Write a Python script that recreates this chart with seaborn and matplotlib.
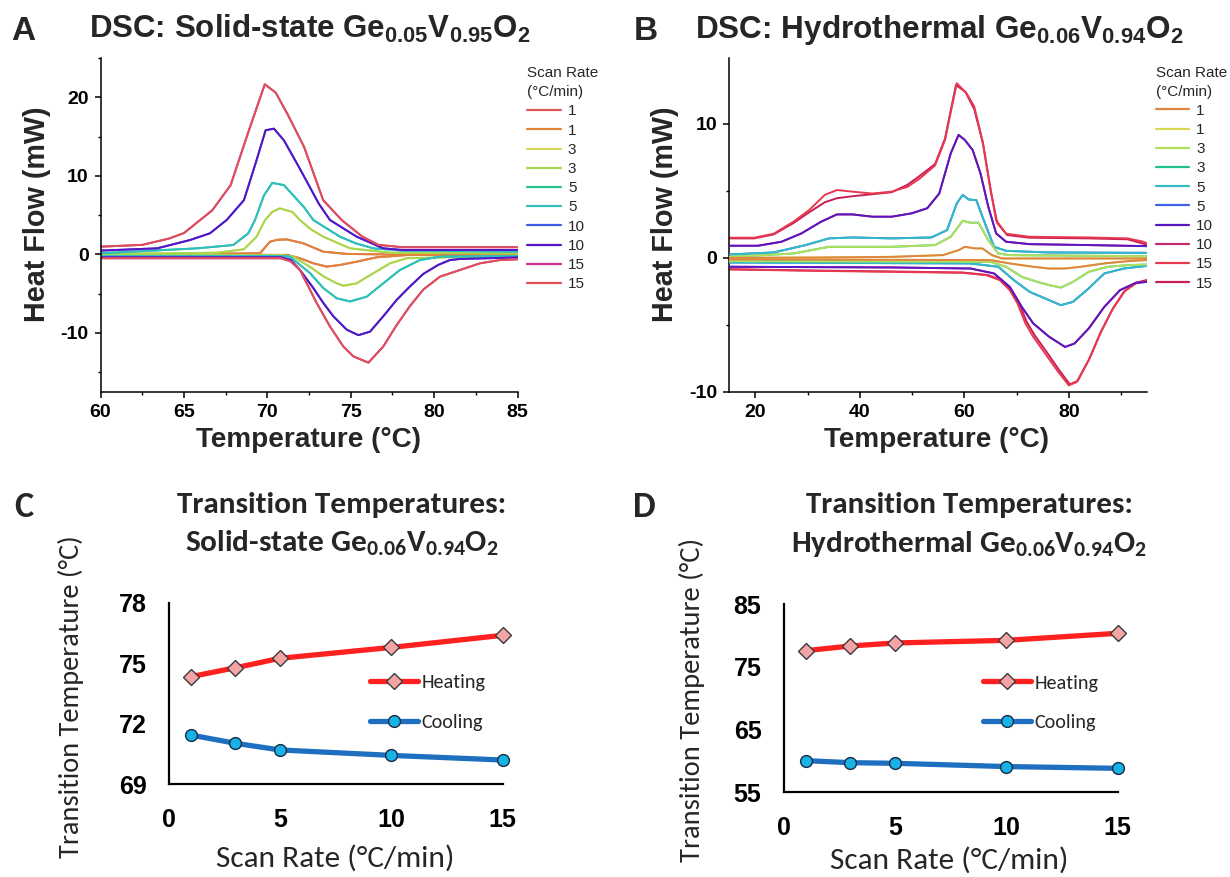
import matplotlib
matplotlib.use("Agg")
import matplotlib.pyplot as plt
import seaborn as sns
from matplotlib import font_manager as fm
from matplotlib.ticker import MultipleLocator

# ---------------------------------------------------------------- data
# Panel A: DSC loops, solid-state Ge0.05V0.95O2 (cooling = exothermic peak, heating = dip)
A_r1_cool_T = [60.0, 69.56, 70.16, 70.6, 71.16, 72.16, 73.36, 74.76, 76.4, 85.0]
A_r1_cool_HF = [-0.08, 0.13, 1.6, 1.85, 1.9, 1.4, 0.33, 0.05, 0.0, -0.1]
A_r1_heat_T = [60.0, 71.2, 71.96, 72.76, 73.56, 74.36, 75.36, 76.56, 78.36, 85.0]
A_r1_heat_HF = [-0.05, -0.08, -0.5, -1.15, -1.57, -1.36, -0.94, -0.38, -0.1, -0.1]

A_r3_cool_T = [60.0, 67.0, 68.6, 69.36, 69.86, 70.3, 70.75, 71.5, 71.96, 72.6, 73.36, 74.96, 77.36, 85.0]
A_r3_cool_HF = [0.04, 0.2, 0.64, 2.24, 4.36, 5.4, 5.85, 5.4, 4.36, 3.2, 2.24, 0.76, 0.2, 0.13]
A_r3_heat_T = [60.0, 70.8, 71.56, 72.56, 73.36, 74.16, 74.56, 75.36, 76.36, 77.36, 78.36, 85.0]
A_r3_heat_HF = [-0.13, -0.13, -0.3, -1.6, -2.8, -3.7, -4.0, -3.7, -2.4, -1.15, -0.5, -0.2]

A_r5_cool_T = [60.0, 65.8, 67.96, 68.86, 69.26, 69.8, 70.3, 71.0, 72.2, 72.76, 74.36, 75.3, 76.36, 78.1, 85.0]
A_r5_cool_HF = [0.13, 0.76, 1.18, 2.67, 4.36, 7.5, 9.1, 8.8, 6.0, 4.36, 2.24, 1.4, 0.76, 0.47, 0.34]
A_r5_heat_T = [60.0, 70.6, 71.36, 72.56, 73.36, 74.16, 74.96, 75.96, 76.95, 77.95, 79.15, 80.35, 85.0]
A_r5_heat_HF = [-0.21, -0.21, -0.3, -2.4, -4.3, -5.6, -6.0, -5.4, -3.7, -2.0, -0.73, -0.3, -0.21]

A_r10_cool_T = [60.0, 63.4, 65.37, 66.56, 67.56, 68.6, 69.3, 69.9, 70.4, 71.0, 71.9, 73.1, 73.76, 75.36, 76.95, 78.1, 85.0]
A_r10_cool_HF = [0.47, 0.76, 1.82, 2.67, 4.36, 6.9, 11.6, 15.8, 16.0, 14.5, 11.1, 6.4, 4.36, 2.24, 0.76, 0.55, 0.55]
A_r10_heat_T = [60.0, 70.8, 71.4, 71.96, 72.76, 73.36, 73.96, 74.76, 75.46, 76.16, 76.95, 77.76, 78.55, 79.35, 80.25, 80.95, 81.55, 85.0]
A_r10_heat_HF = [-0.38, -0.38, -0.7, -2.0, -4.3, -6.2, -7.9, -9.6, -10.3, -9.85, -7.9, -5.8, -4.1, -2.5, -1.35, -0.73, -0.6, -0.4]

A_r15_cool_T = [60.0, 62.5, 64.1, 65.0, 66.7, 67.8, 68.9, 69.85, 70.5, 71.2, 72.2, 73.35, 74.46, 75.7, 76.66, 78.1, 85.0]
A_r15_cool_HF = [0.97, 1.2, 2.0, 2.7, 5.6, 8.8, 15.8, 21.65, 20.6, 17.9, 13.7, 6.9, 4.36, 2.25, 1.2, 0.9, 0.9]
A_r15_heat_T = [60.0, 70.8, 71.4, 71.96, 72.96, 73.76, 74.56, 75.16, 76.06, 76.95, 77.76, 78.55, 79.35, 80.35, 81.55, 82.75, 83.95, 85.0]
A_r15_heat_HF = [-0.5, -0.5, -0.9, -2.0, -6.2, -9.2, -11.75, -13.0, -13.8, -11.75, -9.0, -6.6, -4.5, -2.85, -2.0, -1.15, -0.73, -0.64]

# Panel B: DSC loops, hydrothermal Ge0.06V0.94O2
B_r1_cool_T = [15.0, 31.0, 46.1, 55.9, 58.9, 60.1, 62.0, 63.45, 65.3, 67.2, 95.0]
B_r1_cool_HF = [0.0, 0.02, 0.07, 0.2, 0.57, 0.82, 0.7, 0.7, 0.2, -0.05, -0.05]
B_r1_heat_T = [15.0, 65.0, 68.7, 73.2, 76.25, 79.3, 82.3, 86.8, 91.3, 95.0]
B_r1_heat_HF = [-0.12, -0.17, -0.42, -0.67, -0.8, -0.8, -0.67, -0.42, -0.25, -0.17]

B_r3_cool_T = [15.0, 27.3, 34.1, 46.1, 54.4, 57.4, 59.7, 61.2, 62.7, 64.6, 66.5, 68.7, 95.0]
B_r3_cool_HF = [0.07, 0.32, 0.82, 0.82, 0.95, 1.57, 2.77, 2.62, 2.62, 1.32, 0.32, 0.2, 0.12]
B_r3_heat_T = [15.0, 65.0, 68.0, 71.0, 74.0, 76.25, 78.5, 80.8, 83.8, 87.5, 91.3, 95.0]
B_r3_heat_HF = [-0.25, -0.3, -0.67, -1.42, -1.8, -2.04, -2.22, -1.8, -1.05, -0.67, -0.55, -0.5]

B_r5_cool_T = [15.0, 23.5, 29.6, 34.1, 38.6, 46.1, 53.7, 56.7, 58.55, 59.7, 60.8, 62.3, 64.2, 65.7, 68.0, 76.0, 95.0]
B_r5_cool_HF = [0.25, 0.4, 0.95, 1.45, 1.52, 1.45, 1.52, 2.07, 4.06, 4.7, 4.36, 4.3, 2.32, 0.82, 0.52, 0.4, 0.37]
B_r5_heat_T = [15.0, 61.2, 66.5, 69.5, 72.5, 75.5, 78.5, 80.8, 83.8, 86.8, 90.55, 95.0]
B_r5_heat_HF = [-0.35, -0.42, -0.67, -1.67, -2.54, -3.04, -3.54, -3.29, -2.29, -1.17, -0.8, -0.6]

B_r10_cool_T = [15.0, 20.5, 25.0, 28.8, 32.6, 35.6, 38.6, 42.4, 46.1, 49.9, 52.9, 55.2, 57.4, 58.9, 60.1, 61.6, 63.1, 64.6, 66.1, 68.0, 72.5, 83.8, 95.0]
B_r10_cool_HF = [0.9, 0.9, 1.2, 1.82, 2.7, 3.24, 3.24, 3.07, 3.07, 3.32, 3.7, 4.8, 7.8, 9.18, 8.8, 8.05, 6.3, 3.8, 1.82, 1.2, 1.02, 0.95, 0.87]
B_r10_heat_T = [15.0, 46.1, 61.2, 65.7, 68.7, 71.0, 73.2, 76.25, 79.3, 81.1, 83.8, 86.8, 89.8, 92.8, 95.0]
B_r10_heat_HF = [-0.67, -0.72, -0.8, -1.17, -2.17, -3.67, -4.9, -5.9, -6.66, -6.4, -5.29, -3.67, -2.42, -1.87, -1.8]

B_r15a_cool_T = [15.0, 19.8, 23.5, 27.3, 30.3, 33.3, 35.6, 38.6, 42.4, 46.1, 49.1, 51.4, 54.4, 56.3, 58.55, 60.4, 61.9, 63.45, 64.95, 66.1, 68.0, 72.5, 83.8, 91.3, 94.3, 95.0]
B_r15a_cool_HF = [1.5, 1.5, 1.8, 2.7, 3.57, 4.7, 5.06, 4.94, 4.8, 4.94, 5.3, 5.9, 6.9, 8.8, 13.04, 12.3, 11.3, 8.8, 5.3, 2.8, 1.8, 1.57, 1.52, 1.45, 1.2, 1.07]
B_r15a_heat_T = [15.0, 31.0, 46.1, 59.7, 64.2, 66.8, 68.7, 70.2, 71.7, 73.2, 75.5, 77.75, 80.0, 81.5, 83.8, 86.0, 88.3, 90.55, 92.8, 95.0]
B_r15a_heat_HF = [-0.87, -0.97, -1.05, -1.12, -1.3, -1.67, -2.42, -3.42, -4.9, -5.9, -7.16, -8.4, -9.53, -9.28, -7.66, -5.66, -3.9, -2.54, -1.92, -1.72]

B_r15b_cool_T = [15.0, 19.8, 23.5, 27.3, 30.3, 33.3, 35.6, 38.6, 42.4, 46.1, 49.1, 51.4, 54.4, 56.3, 58.4, 60.2, 61.9, 63.6, 65.1, 66.3, 68.2, 72.5, 83.8, 91.3, 94.3, 95.0]
B_r15b_cool_HF = [1.45, 1.45, 1.75, 2.6, 3.4, 4.15, 4.45, 4.6, 4.75, 4.9, 5.45, 6.1, 7.0, 8.9, 12.9, 12.4, 11.1, 8.5, 4.9, 2.6, 1.7, 1.5, 1.45, 1.38, 1.05, 0.95]
B_r15b_heat_T = [15.0, 31.0, 46.1, 59.7, 64.4, 67.0, 68.9, 70.4, 71.9, 73.5, 75.8, 78.0, 80.2, 81.7, 84.0, 86.2, 88.5, 90.8, 93.0, 95.0]
B_r15b_heat_HF = [-0.85, -0.95, -1.02, -1.1, -1.28, -1.62, -2.35, -3.3, -4.75, -5.8, -7.05, -8.3, -9.45, -9.2, -7.5, -5.5, -3.75, -2.45, -1.85, -1.65]

# legend entries: (label, colour, loop)
A_labels = ["1", "1", "3", "3", "5", "5", "10", "10", "15", "15"]
A_loops = ["r1", "r1", "r3", "r3", "r5", "r5", "r10", "r10", "r15", "r15"]
A_colors = ["#e05656", "#e0843a", "#d8d462", "#a8d64c", "#24c28c",
            "#2fbfbf", "#3c5ce6", "#5614c6", "#c63090", "#e04e58"]
B_labels = ["1", "1", "3", "3", "5", "5", "10", "10", "15", "15"]
B_loops = ["r1", "r1", "r3", "r3", "r5", "r5", "r10", "r10", "r15a", "r15b"]
B_colors = ["#e0853f", "#d8d852", "#b0e05c", "#22c290", "#30bcc6",
            "#4064e4", "#5816c4", "#c42c6c", "#e8384e", "#c81e56"]

# Panels C / D: transition temperatures vs scan rate
scan_rate = [1, 3, 5, 10, 15]
C_heating = [74.33, 74.77, 75.24, 75.78, 76.38]
C_cooling = [71.43, 71.02, 70.69, 70.42, 70.19]
D_heating = [77.57, 78.31, 78.79, 79.21, 80.33]
D_cooling = [60.04, 59.72, 59.62, 59.10, 58.82]
C_yticks = [69, 72, 75, 78]
D_yticks = [55, 65, 75, 85]
CD_xticks = [0, 5, 10, 15]

# ---------------------------------------------------------------- style
sns.set_theme(style="ticks")


def have(name):
    try:
        fm.findfont(fm.FontProperties(family=name), fallback_to_default=False)
        return True
    except Exception:
        return False


ARIAL = "Liberation Sans" if have("Liberation Sans") else "DejaVu Sans"
CAL = "Carlito" if have("Carlito") else ("Lato" if have("Lato") else ARIAL)

plt.rcParams["font.family"] = [ARIAL, "DejaVu Sans"]
plt.rcParams["axes.unicode_minus"] = False
plt.rcParams["mathtext.default"] = "regular"

W, H = 1230, 877
fig = plt.figure(figsize=(W / 100, H / 100), dpi=100)
fig.patch.set_facecolor("white")


def axes_px(l, t, r, b):
    return fig.add_axes([l / W, 1 - b / H, (r - l) / W, (b - t) / H])


def ftext(x, y, s, **kw):
    kw.setdefault("ha", "center")
    kw.setdefault("va", "center")
    return fig.text(x / W, 1 - y / H, s, **kw)


renderer = fig.canvas.get_renderer()


def fit(t, target, vertical=False):
    for _ in range(2):
        bb = t.get_window_extent(renderer)
        cur = bb.height if vertical else bb.width
        if cur > 0:
            t.set_fontsize(t.get_fontsize() * target / cur)


axA = axes_px(100.5, 58, 517.5, 391.7)
axB = axes_px(729.3, 58.3, 1147.1, 391.7)
axC = axes_px(168.7, 602.7, 502.6, 784.0)
axD = axes_px(783.7, 604.0, 1117.6, 792.3)

loopsA = {
    "r1": ((A_r1_cool_T, A_r1_cool_HF), (A_r1_heat_T, A_r1_heat_HF)),
    "r3": ((A_r3_cool_T, A_r3_cool_HF), (A_r3_heat_T, A_r3_heat_HF)),
    "r5": ((A_r5_cool_T, A_r5_cool_HF), (A_r5_heat_T, A_r5_heat_HF)),
    "r10": ((A_r10_cool_T, A_r10_cool_HF), (A_r10_heat_T, A_r10_heat_HF)),
    "r15": ((A_r15_cool_T, A_r15_cool_HF), (A_r15_heat_T, A_r15_heat_HF)),
}
loopsB = {
    "r1": ((B_r1_cool_T, B_r1_cool_HF), (B_r1_heat_T, B_r1_heat_HF)),
    "r3": ((B_r3_cool_T, B_r3_cool_HF), (B_r3_heat_T, B_r3_heat_HF)),
    "r5": ((B_r5_cool_T, B_r5_cool_HF), (B_r5_heat_T, B_r5_heat_HF)),
    "r10": ((B_r10_cool_T, B_r10_cool_HF), (B_r10_heat_T, B_r10_heat_HF)),
    "r15a": ((B_r15a_cool_T, B_r15a_cool_HF), (B_r15a_heat_T, B_r15a_heat_HF)),
    "r15b": ((B_r15b_cool_T, B_r15b_cool_HF), (B_r15b_heat_T, B_r15b_heat_HF)),
}
# drawing order: in A the second of each pair lies on top, in B the first
zA = [2.0 + 0.05 * i for i in range(10)]
zB = [2.9, 2.0, 2.8, 2.1, 2.7, 2.2, 2.6, 2.3, 2.5, 2.4]


def draw_dsc(ax, labels, loops_keys, colors, zorders, loops):
    for lab, key, col, z in zip(labels, loops_keys, colors, zorders):
        (cT, cH), (hT, hH) = loops[key]
        sns.lineplot(x=cT, y=cH, ax=ax, color=col, lw=1.4, sort=False,
                     estimator=None, label=lab, zorder=z)
        sns.lineplot(x=hT, y=hH, ax=ax, color=col, lw=1.4, sort=False,
                     estimator=None, label="_nolegend_", zorder=z)


draw_dsc(axA, A_labels, A_loops, A_colors, zA, loopsA)
draw_dsc(axB, B_labels, B_loops, B_colors, zB, loopsB)

for ax, xl, yl, xmaj, xmin, ymaj, ymin, yt in [
        (axA, (60, 85), (-17.5, 25), 5, 2.5, 10, 5, [-10, 0, 10, 20]),
        (axB, (15, 95), (-10, 14.9), 20, 10, 10, 5, [-10, 0, 10])]:
    ax.set_xlim(*xl)
    ax.set_ylim(*yl)
    ax.xaxis.set_major_locator(MultipleLocator(xmaj))
    ax.xaxis.set_minor_locator(MultipleLocator(xmin))
    ax.set_yticks(yt)
    ax.yaxis.set_minor_locator(MultipleLocator(ymin))
    for s in ["top", "right"]:
        ax.spines[s].set_visible(False)
    for s in ["left", "bottom"]:
        ax.spines[s].set_linewidth(1.1)
        ax.spines[s].set_color("black")
    ax.tick_params(which="major", direction="out", length=4.5, width=1.1,
                   labelsize=14, pad=4, colors="black")
    ax.tick_params(which="minor", direction="out", length=2.5, width=1.0,
                   colors="black")
    plt.setp(ax.get_xticklabels() + ax.get_yticklabels(), fontweight="bold")
    ax.set_facecolor("white")

leg_kw = dict(loc="upper left", frameon=False, title="Scan Rate\n(°C/min)",
              alignment="left", borderaxespad=0, borderpad=0, handlelength=2.2,
              handletextpad=0.45, labelspacing=0.34,
              prop={"family": ARIAL, "size": 11},
              title_fontproperties={"family": ARIAL, "size": 11})
legA = axA.legend(bbox_to_anchor=(1.0237, 0.975), **leg_kw)
legB = axB.legend(bbox_to_anchor=(1.0208, 0.978), **leg_kw)
for leg in (legA, legB):
    leg.get_title().set_linespacing(1.45)
    for ln in leg.get_lines():
        ln.set_linewidth(1.6)

# ---- panels C and D
for ax, heat, cool, yt, yl in [(axC, C_heating, C_cooling, C_yticks, (69, 78)),
                               (axD, D_heating, D_cooling, D_yticks, (55, 85))]:
    sns.lineplot(x=scan_rate, y=heat, ax=ax, color="#ff2020", lw=3.8, marker="D",
                 markersize=8.5, markerfacecolor="#f4a4a4", markeredgecolor="#3a3a3a",
                 markeredgewidth=1.0, label="Heating", clip_on=False, sort=False,
                 zorder=3)
    sns.lineplot(x=scan_rate, y=cool, ax=ax, color="#1f6fc0", lw=3.8, marker="o",
                 markersize=8.5, markerfacecolor="#17b2e8", markeredgecolor="#1b2a44",
                 markeredgewidth=1.0, label="Cooling", clip_on=False, sort=False,
                 zorder=3)
    ax.set_xlim(0, 15)
    ax.set_ylim(*yl)
    ax.set_xticks(CD_xticks)
    ax.set_yticks(yt)
    for s in ["top", "right"]:
        ax.spines[s].set_visible(False)
    for s in ["left", "bottom"]:
        ax.spines[s].set_linewidth(1.6)
        ax.spines[s].set_color("black")
    ax.tick_params(axis="y", length=0, labelsize=18, pad=16)
    ax.tick_params(axis="x", length=0, labelsize=18, pad=17)
    plt.setp(ax.get_xticklabels() + ax.get_yticklabels(), fontweight="bold",
             fontfamily=ARIAL, color="black")
    ax.set_facecolor("white")

legcd_kw = dict(loc="upper left", frameon=False, borderaxespad=0, borderpad=0,
                handlelength=2.35, handletextpad=0.2, labelspacing=1.1,
                prop={"family": CAL, "size": 14.5})
legC = axC.legend(bbox_to_anchor=(0.604, 0.605), **legcd_kw)
legD = axD.legend(bbox_to_anchor=(0.598, 0.626), **legcd_kw)

# ---------------------------------------------------------------- texts
bold_arial = dict(fontfamily=ARIAL, fontweight="bold")
bold_cal = dict(fontfamily=CAL, fontweight="bold")

ftext(23.7, 40, "A", fontsize=24, va="baseline", **bold_arial)
ftext(645.5, 40, "B", fontsize=24, va="baseline", **bold_arial)
ftext(23.7, 517, "C", fontsize=26, va="baseline", **bold_cal)
ftext(644.5, 517, "D", fontsize=26, va="baseline", **bold_cal)

t = ftext(309.3, 37.7, "DSC: Solid-state Ge$_{0.05}$V$_{0.95}$O$_2$",
          fontsize=22, va="baseline", **bold_arial)
fit(t, 441)
t = ftext(939.2, 37.7, "DSC: Hydrothermal Ge$_{0.06}$V$_{0.94}$O$_2$",
          fontsize=22, va="baseline", **bold_arial)
fit(t, 487)

t = ftext(37, 214.5, "Heat Flow (mW)", rotation=90, fontsize=20, **bold_arial)
fit(t, 215, vertical=True)
t = ftext(665, 214.5, "Heat Flow (mW)", rotation=90, fontsize=20, **bold_arial)
fit(t, 215, vertical=True)
t = ftext(308.3, 440, "Temperature (°C)", fontsize=19, **bold_arial)
fit(t, 225)
t = ftext(936, 440, "Temperature (°C)", fontsize=19, **bold_arial)
fit(t, 225)

t = ftext(342, 513.3, "Transition Temperatures:", fontsize=21, va="baseline", **bold_cal)
fit(t, 329)
t = ftext(342, 551, "Solid-state Ge$_{0.06}$V$_{0.94}$O$_2$", fontsize=21,
          va="baseline", **bold_cal)
fit(t, 313.6)
t = ftext(969.8, 513.3, "Transition Temperatures:", fontsize=21, va="baseline", **bold_cal)
fit(t, 327)
t = ftext(968.8, 551.7, "Hydrothermal Ge$_{0.06}$V$_{0.94}$O$_2$", fontsize=21,
          va="baseline", **bold_cal)
fit(t, 356.7)

t = ftext(71, 696.5, "Transition Temperature (°C)", rotation=90, fontsize=20,
          fontfamily=CAL)
fit(t, 323, vertical=True)
t = ftext(692, 700, "Transition Temperature (°C)", rotation=90, fontsize=20,
          fontfamily=CAL)
fit(t, 324, vertical=True)
t = ftext(335, 858, "Scan Rate (°C/min)", fontsize=21, fontfamily=CAL)
fit(t, 238.5)
t = ftext(949, 860, "Scan Rate (°C/min)", fontsize=21, fontfamily=CAL)
fit(t, 238.5)

fig.savefig("out.png", dpi=100, facecolor="white")
